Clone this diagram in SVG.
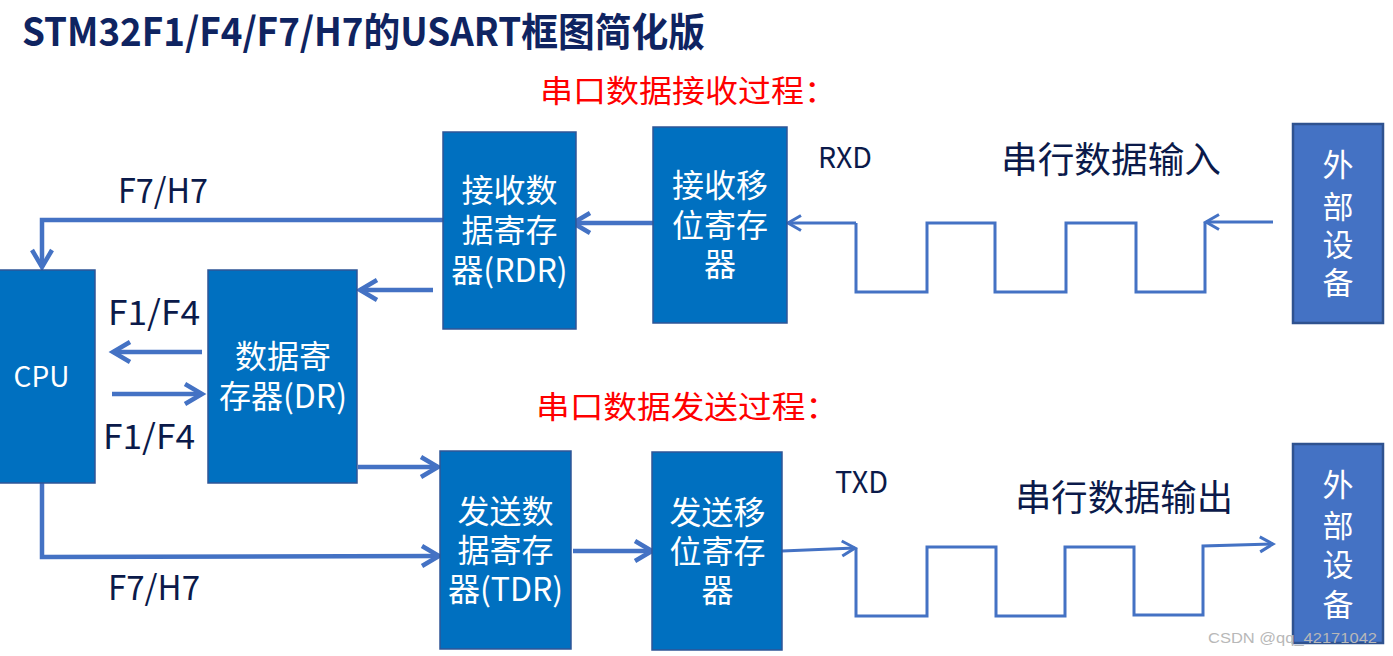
<svg xmlns="http://www.w3.org/2000/svg" width="1393" height="656" viewBox="0 0 1393 656">
<style>
.box{fill:#0070C0;stroke:#2F5597;stroke-width:1.5}
.ext{fill:#4472C4;stroke:#2F528F;stroke-width:2.5}
.wt{font-family:"Noto Sans CJK SC","Noto Sans",sans-serif;fill:#ffffff;text-anchor:middle}
.lbl{font-family:"Noto Sans CJK SC","Noto Sans",sans-serif;fill:#0b1a4a}
.red{font-family:"Noto Sans CJK SC",sans-serif;fill:#ff0000;font-size:31px}
.c{fill:none;stroke:#4472C4;stroke-width:4.5;stroke-linejoin:miter}
.w{fill:none;stroke:#4472C4;stroke-width:3}
</style>
<defs>
<marker id="arr" markerUnits="userSpaceOnUse" viewBox="0 0 24 24" markerWidth="24" markerHeight="24" refX="20" refY="12" orient="auto" overflow="visible">
<path d="M3,2 L20,12 L3,22" fill="none" stroke="#4472C4" stroke-width="4.5"/>
</marker>
<marker id="arrs" markerUnits="userSpaceOnUse" viewBox="0 0 20 20" markerWidth="20" markerHeight="20" refX="16" refY="10" orient="auto" overflow="visible">
<path d="M3,2.5 L16,10 L3,17.5" fill="none" stroke="#4472C4" stroke-width="3"/>
</marker>
</defs>
<rect width="1393" height="656" fill="#ffffff"/>

<text x="22" y="46" font-family="'Noto Sans CJK SC',sans-serif" font-weight="bold" font-size="39" fill="#0f2461" textLength="683" lengthAdjust="spacingAndGlyphs">STM32F1/F4/F7/H7的USART框图简化版</text>
<text class="red" x="540" y="102" textLength="297" lengthAdjust="spacingAndGlyphs">串口数据接收过程：</text>
<text class="red" x="536" y="418" textLength="303" lengthAdjust="spacingAndGlyphs">串口数据发送过程：</text>

<g id="connectors">
<path class="c" d="M443,220 L42,220 L42,267" marker-end="url(#arr)"/>
<path class="c" d="M433,290 L360,290" marker-end="url(#arr)"/>
<path class="c" d="M202,352 L113,352" marker-end="url(#arr)"/>
<path class="c" d="M112,394 L202,394" marker-end="url(#arr)"/>
<path class="c" d="M358,467 L438,467" marker-end="url(#arr)"/>
<path class="c" d="M42,483 L42,557 L439,556" marker-end="url(#arr)"/>
<path class="c" d="M653,223 L573,223" marker-end="url(#arr)"/>
<path class="c" d="M573,551 L652,551" marker-end="url(#arr)"/>
<path class="w" d="M856,223 L788,223" marker-end="url(#arrs)"/>
<path class="w" d="M856,223 L856,292 L927,292 L927,223 L995,223 L995,292 L1066,292 L1066,223 L1136,223 L1136,292 L1205,292 L1205,222"/>
<path class="w" d="M1273,222 L1206,222" marker-end="url(#arrs)"/>
<path class="w" d="M782,551 L855,548" marker-end="url(#arrs)"/>
<path class="w" d="M856,548 L856,616 L927,616 L927,547 L996,547 L996,616 L1065,616 L1065,547 L1134,547 L1134,615 L1203,615 L1203,546 L1273,544" marker-end="url(#arrs)"/>
</g>

<g id="cpu">
<rect class="box" x="-2" y="270" width="97" height="213"/>
<text class="wt" x="41.5" y="387" font-size="28">CPU</text>
</g>
<g id="dr">
<rect class="box" x="208" y="270" width="149" height="213"/>
<text class="wt" x="283" y="368" font-size="32">数据寄</text>
<text class="wt" x="283" y="408" font-size="32">存器(DR)</text>
</g>
<g id="rdr">
<rect class="box" x="443" y="132" width="133" height="197"/>
<text class="wt" x="509.5" y="202" font-size="32">接收数</text>
<text class="wt" x="509.5" y="242" font-size="32">据寄存</text>
<text class="wt" x="509.5" y="282" font-size="32">器(RDR)</text>
</g>
<g id="rx-shift">
<rect class="box" x="653" y="127" width="134" height="196"/>
<text class="wt" x="720" y="197" font-size="32">接收移</text>
<text class="wt" x="720" y="237" font-size="32">位寄存</text>
<text class="wt" x="720" y="276" font-size="32">器</text>
</g>
<g id="tdr">
<rect class="box" x="440" y="451" width="131" height="198"/>
<text class="wt" x="505.5" y="523" font-size="32">发送数</text>
<text class="wt" x="505.5" y="562" font-size="32">据寄存</text>
<text class="wt" x="505.5" y="601" font-size="32">器(TDR)</text>
</g>
<g id="tx-shift">
<rect class="box" x="652" y="452" width="130" height="198"/>
<text class="wt" x="717.5" y="524" font-size="32">发送移</text>
<text class="wt" x="717.5" y="563" font-size="32">位寄存</text>
<text class="wt" x="717.5" y="602" font-size="32">器</text>
</g>
<g id="ext-in">
<rect class="ext" x="1293" y="124" width="90" height="199"/>
<text class="wt" x="1338" y="176" font-size="31">外</text>
<text class="wt" x="1338" y="218" font-size="31">部</text>
<text class="wt" x="1338" y="256" font-size="31">设</text>
<text class="wt" x="1338" y="294" font-size="31">备</text>
</g>
<g id="ext-out">
<rect class="ext" x="1293" y="444" width="90" height="199"/>
<text class="wt" x="1338" y="496" font-size="31">外</text>
<text class="wt" x="1338" y="537" font-size="31">部</text>
<text class="wt" x="1338" y="576" font-size="31">设</text>
<text class="wt" x="1338" y="616" font-size="31">备</text>
</g>

<g id="labels">
<text class="lbl" x="118" y="203" font-size="34" textLength="90" lengthAdjust="spacingAndGlyphs">F7/H7</text>
<text class="lbl" x="108" y="325" font-size="34" textLength="92" lengthAdjust="spacingAndGlyphs">F1/F4</text>
<text class="lbl" x="103" y="449" font-size="34" textLength="92" lengthAdjust="spacingAndGlyphs">F1/F4</text>
<text class="lbl" x="108" y="600" font-size="34" textLength="92" lengthAdjust="spacingAndGlyphs">F7/H7</text>
<text class="lbl" x="818" y="168" font-size="29" textLength="54" lengthAdjust="spacingAndGlyphs">RXD</text>
<text class="lbl" x="835" y="493" font-size="30" textLength="53" lengthAdjust="spacingAndGlyphs">TXD</text>
<text class="lbl" x="1001" y="173" font-size="36" textLength="220" lengthAdjust="spacingAndGlyphs">串行数据输入</text>
<text class="lbl" x="1015" y="511" font-size="36" textLength="218" lengthAdjust="spacingAndGlyphs">串行数据输出</text>
</g>
<text x="1208" y="643" font-family="'Liberation Sans',sans-serif" font-size="15" fill="#b8b8b8" textLength="169" lengthAdjust="spacingAndGlyphs">CSDN @qq_42171042</text>
</svg>
